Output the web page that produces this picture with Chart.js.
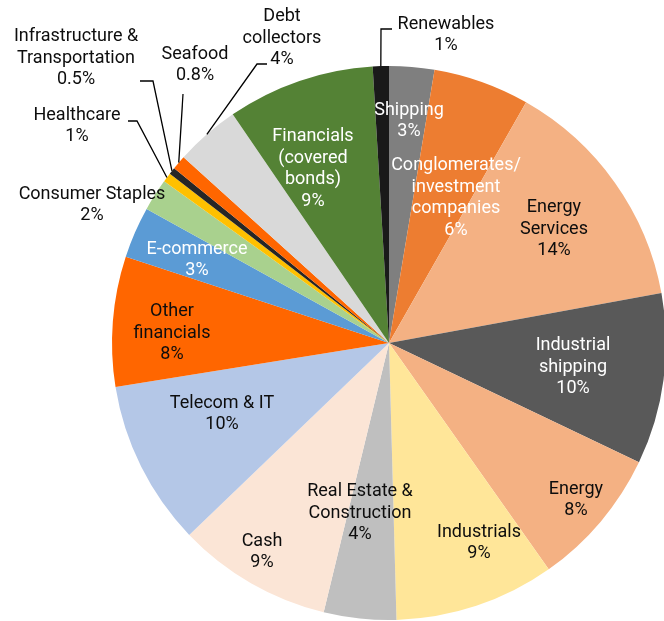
<!DOCTYPE html>
<html>
<head>
<meta charset="utf-8">
<script src="https://cdn.jsdelivr.net/npm/chart.js@4/dist/chart.umd.min.js"></script>
<style>
  html, body { margin: 0; padding: 0; background: #fff; overflow: hidden; }
  #wrap { position: absolute; left: 0; top: 0; width: 670px; height: 621px; }
</style>
</head>
<body>
<div id="wrap"><canvas id="chart" width="670" height="621"></canvas></div>
<script>
// sectors, clockwise from 12 o'clock
const sectors = [
  'Shipping', 'Conglomerates/\ninvestment\ncompanies', 'Energy\nServices', 'Industrial\nshipping',
  'Energy', 'Industrials', 'Real Estate &\nConstruction', 'Cash', 'Telecom & IT',
  'Other\nfinancials', 'E-commerce', 'Consumer Staples', 'Healthcare',
  'Infrastructure &\nTransportation', 'Seafood', 'Debt\ncollectors', 'Financials\n(covered\nbonds)', 'Renewables'
]
const shares = [2.63, 5.61, 13.87, 9.98, 8.13, 9.35, 4.22, 9.03, 9.64, 7.58, 3.0, 1.88, 0.55, 0.4, 0.83, 3.76, 8.6, 0.94]
const shareLabels = ['3%', '6%', '14%', '10%', '8%', '9%', '4%', '9%', '10%', '8%', '3%', '2%', '1%', '0.5%', '0.8%', '4%', '9%', '1%']

const sliceColors = [
  '#7f7f7f', '#ed7d31', '#f4b183', '#595959', '#f4b183', '#ffe699', '#bfbfbf', '#fbe5d6', '#b4c7e7',
  '#ff6600', '#5b9bd5', '#a9d18e', '#ffc000', '#262626', '#ff6600', '#d9d9d9', '#548235', '#1a1a1a'
]
const W = '#ffffff', B = '#0d0d0d'
const textColors = [W, W, B, W, B, B, B, B, B, B, W, B, B, B, B, B, W, B]

// text block centre, relative to pie centre
const labelOffsets = [
  [20, -222], [67, -145], [165, -114], [184, 24], [187, 157], [90, 200], [-29, 170], [-127, 209], [-167, 71],
  [-217, -10], [-192, -83], [-297, -138], [-312, -217], [-313, -285], [-194, -278], [-107, -305], [-76, -174], [57, -308]
]
// leader line points after the slice edge, relative to pie centre
const leaders = {
  12: [[-252, -222], [-261, -222]],
  13: [[-236, -262], [-249, -262]],
  14: [[-206, -249]],
  15: [[-132, -279], [-122, -279]],
  17: [[-8, -314], [3, -314]]
}
const lineHeight = 21.8

const pieLabels = {
  id: 'pieLabels',
  afterDatasetsDraw(chart) {
    const ctx = chart.ctx
    const arcs = chart.getDatasetMeta(0).data
    ctx.save()
    ctx.font = '18px Roboto'
    ctx.textAlign = 'center'
    ctx.textBaseline = 'middle'
    ctx.strokeStyle = '#000'
    ctx.lineWidth = 1.3
    arcs.forEach((arc, i) => {
      const p = arc.getProps(['x', 'y', 'startAngle', 'endAngle', 'outerRadius'], true)
      const lines = sectors[i].split('\n').concat(shareLabels[i])
      const [dx, dy] = labelOffsets[i]
      const top = p.y + dy - (lines.length - 1) * lineHeight / 2
      ctx.fillStyle = textColors[i]
      lines.forEach((t, k) => ctx.fillText(t, p.x + dx, top + k * lineHeight))

      if (leaders[i]) {
        const mid = (p.startAngle + p.endAngle) / 2
        ctx.beginPath()
        ctx.moveTo(p.x + Math.cos(mid) * p.outerRadius, p.y + Math.sin(mid) * p.outerRadius)
        leaders[i].forEach(q => ctx.lineTo(p.x + q[0], p.y + q[1]))
        ctx.stroke()
      }
    })
    ctx.restore()
  }
}

new Chart(document.getElementById('chart'), {
  type: 'pie',
  data: {
    labels: sectors,
    datasets: [{
      data: shares,
      backgroundColor: sliceColors,
      borderWidth: 0
    }]
  },
  options: {
    responsive: false,
    animation: false,
    layout: { padding: { left: 112, right: 4, top: 66, bottom: 1 } },
    plugins: {
      legend: { display: false },
      tooltip: { enabled: false }
    }
  },
  plugins: [pieLabels]
})
</script>
</body>
</html>
